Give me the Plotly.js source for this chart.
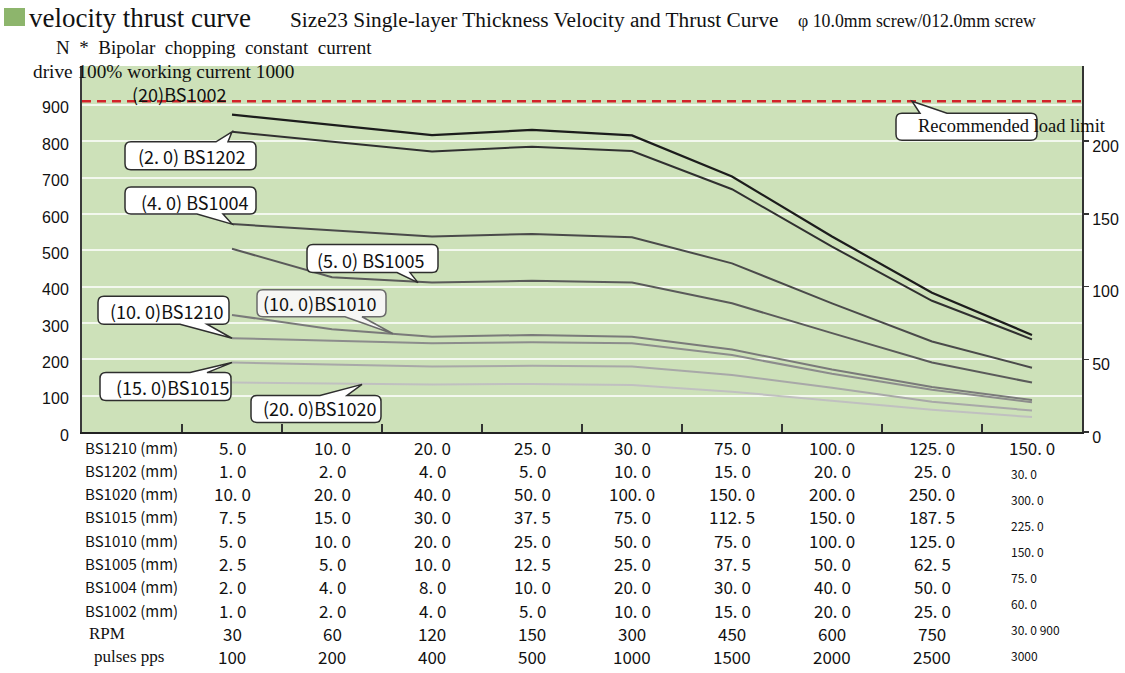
<!DOCTYPE html>
<html>
<head>
<meta charset="utf-8">
<script src="https://cdn.plot.ly/plotly-3.0.1.min.js"></script>
<style>
  html, body { margin: 0; padding: 0; background: #ffffff; }
  #chart { width: 1125px; height: 673px; }
</style>
</head>
<body>
<div id="chart"></div>
<script>
// Thrust (N) at each of the nine speed steps, one series per screw lead
const thrustBS1002 = [873, 845, 817, 831, 816, 703, 538, 383, 267];
const thrustBS1202 = [826, 799, 772, 785, 773, 668, 510, 361, 255];
const thrustBS1004 = [572, 556, 538, 545, 536, 464, 354, 249, 177];
const thrustBS1005 = [504, 426, 411, 416, 411, 354, 272, 191, 136];
const thrustBS1010 = [322, 283, 262, 267, 262, 227, 172, 124, 88];
const thrustBS1210 = [258, 251, 244, 247, 244, 212, 160, 116, 82];
const thrustBS1015 = [191, 186, 180, 182, 180, 157, 122, 83, 59];
const thrustBS1020 = [136, 133, 131, 132, 129, 111, 86, 61, 41];
const LOAD_LIMIT = 910;

// Linear speed (mm/s) per lead, RPM and pulse rate for the same nine steps
const rowLabels = ['BS1210 (mm)', 'BS1202 (mm)', 'BS1020 (mm)', 'BS1015 (mm)', 'BS1010 (mm)',
                   'BS1005 (mm)', 'BS1004 (mm)', 'BS1002 (mm)', 'RPM', 'pulses pps'];
const speedBS1210 = ['5. 0', '10. 0', '20. 0', '25. 0', '30. 0', '75. 0', '100. 0', '125. 0', '150. 0'];
const speedBS1202 = ['1. 0', '2. 0', '4. 0', '5. 0', '10. 0', '15. 0', '20. 0', '25. 0', '30. 0'];
const speedBS1020 = ['10. 0', '20. 0', '40. 0', '50. 0', '100. 0', '150. 0', '200. 0', '250. 0', '300. 0'];
const speedBS1015 = ['7. 5', '15. 0', '30. 0', '37. 5', '75. 0', '112. 5', '150. 0', '187. 5', '225. 0'];
const speedBS1010 = ['5. 0', '10. 0', '20. 0', '25. 0', '50. 0', '75. 0', '100. 0', '125. 0', '150. 0'];
const speedBS1005 = ['2. 5', '5. 0', '10. 0', '12. 5', '25. 0', '37. 5', '50. 0', '62. 5', '75. 0'];
const speedBS1004 = ['2. 0', '4. 0', '8. 0', '10. 0', '20. 0', '30. 0', '40. 0', '50. 0', '60. 0'];
const speedBS1002 = ['1. 0', '2. 0', '4. 0', '5. 0', '10. 0', '15. 0', '20. 0', '25. 0', '30. 0'];
const rpmValues   = ['30', '60', '120', '150', '300', '450', '600', '750', '900'];
const ppsValues   = ['100', '200', '400', '500', '1000', '1500', '2000', '2500', '3000'];

const leftTicks  = [0, 100, 200, 300, 400, 500, 600, 700, 800, 900];
const rightTicks = [0, 50, 100, 150, 200];

// ---- geometry helpers (plot box in page pixels) ----
const PLOT = { l: 82, t: 66, w: 1000, h: 366 };
const W = 1125, H = 673;
const px = x => (x - PLOT.l) / PLOT.w;
const py = y => (PLOT.t + PLOT.h - y) / PLOT.h;
const Y_MAX = 1007;

// speed steps sit in the middle of each grid cell; the first cell holds the row labels
const stepPos = thrustBS1002.map((_, i) => i + 1.5);

const SANS = 'Noto Sans CJK SC, Noto Sans, sans-serif';
const SERIF = 'Liberation Serif, Times New Roman, serif';

const seriesList = [
  { name: 'BS1002', y: thrustBS1002, color: '#1c1c1c', width: 2.2 },
  { name: 'BS1202', y: thrustBS1202, color: '#303030', width: 2 },
  { name: 'BS1004', y: thrustBS1004, color: '#4a4a4a', width: 2 },
  { name: 'BS1005', y: thrustBS1005, color: '#5a5a5a', width: 2 },
  { name: 'BS1010', y: thrustBS1010, color: '#7a7a7a', width: 2 },
  { name: 'BS1210', y: thrustBS1210, color: '#8c8c8c', width: 2 },
  { name: 'BS1015', y: thrustBS1015, color: '#a8a8a8', width: 2 },
  { name: 'BS1020', y: thrustBS1020, color: '#c0c0c0', width: 2 }
];

const traces = seriesList.map(s => ({
  type: 'scatter', mode: 'lines', name: s.name,
  x: stepPos, y: s.y,
  line: { color: s.color, width: s.width },
  hoverinfo: 'skip', showlegend: false
}));
// keeps the secondary (right) scale drawn
traces.push({ type: 'scatter', x: [], y: [], yaxis: 'y2', showlegend: false, hoverinfo: 'skip' });

// ---- speech-bubble callouts ----
// box and tail are given in pixels relative to the anchor point (screen y grows downward)
function bubblePath(b) {
  const r = 6, L = b.L, T = b.T, R = b.L + b.W, B = b.T + b.H;
  const tx = b.tx || 0, ty = b.ty || 0;
  const P = (x, y) => `${x},${-y}`;
  let d = `M${P(L + r, T)}`;
  if (b.side === 'top') d += ` L${P(b.a, T)} L${P(tx, ty)} L${P(b.c, T)}`;
  d += ` L${P(R - r, T)} Q${P(R, T)} ${P(R, T + r)} L${P(R, B - r)} Q${P(R, B)} ${P(R - r, B)}`;
  if (b.side === 'bottom') d += ` L${P(b.c, B)} L${P(tx, ty)} L${P(b.a, B)}`;
  d += ` L${P(L + r, B)} Q${P(L, B)} ${P(L, B - r)} L${P(L, T + r)} Q${P(L, T)} ${P(L + r, T)} Z`;
  return d;
}

const callouts = [
  { text: '(2. 0) BS1202', x: stepPos[0], y: thrustBS1202[0], L: -107, T: 10, W: 131, H: 28, side: 'top', a: -16, c: -4, tdx: -41, tdy: 24 },
  { text: '(4. 0) BS1004', x: stepPos[0], y: thrustBS1004[0], L: -107, T: -37, W: 131, H: 27, side: 'bottom', a: -35, c: -9, tdx: -38, tdy: -22 },
  { text: '(5. 0) BS1005', x: stepPos[2], y: thrustBS1005[2], L: -125, T: -38, W: 131, H: 28, side: 'bottom', a: -35, c: -22, tx: -14, ty: 0, tdx: -62, tdy: -23 },
  { text: '(10. 0)BS1210', x: stepPos[0], y: thrustBS1210[0], L: -134, T: -42, W: 131, H: 28, side: 'bottom', a: -52, c: -25, tdx: -66, tdy: -27 },
  { text: '(10. 0)BS1010', x: stepPos[2], y: thrustBS1010[2], L: -175, T: -47, W: 129, H: 27, side: 'bottom', a: -87, c: -70, tx: -39, ty: -3, tdx: -113, tdy: -34, soft: true },
  { text: '(15. 0)BS1015', x: stepPos[0], y: thrustBS1015[0], L: -132, T: 10, W: 131, H: 28, side: 'top', a: -42, c: -25, tdx: -60, tdy: 24 },
  { text: '(20. 0)BS1020', x: stepPos[2], y: thrustBS1020[2], L: -181, T: 11, W: 130, H: 27, side: 'top', a: -112, c: -85, tx: -70, ty: 0, tdx: -113, tdy: 24 },
  { text: 'Recommended load limit', x: stepPos[7], y: LOAD_LIMIT, L: -36, T: 12, W: 141, H: 27, side: 'top', a: -12, c: 15, tx: -20, ty: 0, tdx: -16, tdy: 25, serif: true, left: true }
];

const shapes = [
  // caption marker
  { type: 'rect', xref: 'paper', yref: 'paper', x0: px(4), x1: px(25), y0: py(26), y1: py(8),
    fillcolor: '#8db56c', line: { width: 0 } },
  // recommended load limit
  { type: 'line', xref: 'paper', x0: 0, x1: 1, yref: 'y', y0: LOAD_LIMIT, y1: LOAD_LIMIT,
    line: { color: '#d2232a', width: 2.5, dash: '9px,6px' }, layer: 'between' }
];

callouts.forEach(b => {
  shapes.push({
    type: 'path', layer: 'above',
    xref: 'x', yref: 'y', xsizemode: 'pixel', ysizemode: 'pixel',
    xanchor: b.x, yanchor: b.y,
    path: bubblePath(b),
    fillcolor: b.soft ? '#f6f6f4' : '#ffffff',
    line: { color: b.soft ? '#6a6a6a' : '#2e2e2e', width: 1.5 }
  });
});

const annotations = [];

callouts.forEach(b => {
  annotations.push({
    xref: 'x', yref: 'y', x: b.x, y: b.y, xshift: b.tdx, yshift: -b.tdy,
    text: b.text, showarrow: false,
    xanchor: b.left ? 'left' : 'center', yanchor: 'middle',
    font: { family: b.serif ? SERIF : SANS, size: b.serif ? 18.5 : 18, color: '#111111' }
  });
});

// label of the top curve, sitting on the limit line
annotations.push({
  xref: 'x', yref: 'y', x: stepPos[0], y: LOAD_LIMIT, xshift: -53, yshift: 7,
  text: '(20)BS1002', showarrow: false, xanchor: 'center', yanchor: 'middle',
  font: { family: SANS, size: 18, color: '#111111' }
});

// header texts
function pageText(text, x, y, size, family, anchor) {
  annotations.push({
    xref: 'paper', yref: 'paper', x: px(x), y: py(y), text: text, showarrow: false,
    xanchor: anchor || 'left', yanchor: 'middle',
    font: { family: family, size: size, color: '#111111' }
  });
}
pageText('velocity thrust curve', 27, 18, 27, SERIF);
pageText('Size23 Single-layer Thickness Velocity and Thrust Curve', 288, 20, 21.3, SERIF);
pageText('\u03c6 10.0mm screw/012.0mm screw', 796, 21, 17.8, SERIF);
pageText('N &nbsp;* &nbsp;Bipolar &nbsp;chopping &nbsp;constant &nbsp;current', 54, 47, 19, SERIF);
pageText('drive 100% working current 1000', 31, 71, 19.3, SERIF);

// speed table below the plot
const tableRows = [speedBS1210, speedBS1202, speedBS1020, speedBS1015, speedBS1010,
                   speedBS1005, speedBS1004, speedBS1002, rpmValues, ppsValues];
const rowY = r => 447 + r * 23.3;
const plotBottom = PLOT.t + PLOT.h;

tableRows.forEach((vals, r) => {
  const serifRow = r >= 8;
  annotations.push({
    xref: 'paper', yref: 'paper', x: 0, y: 0,
    xshift: r === 8 ? 5 : (r === 9 ? 10 : 1), yshift: -(rowY(r) - plotBottom),
    text: rowLabels[r], showarrow: false, xanchor: 'left', yanchor: 'middle',
    font: { family: serifRow ? SERIF : SANS, size: serifRow ? 17 : 15, color: '#111111' }
  });
  vals.forEach((v, i) => {
    if (i === vals.length - 1 && r > 0) return;
    annotations.push({
      xref: 'x', yref: 'paper', x: stepPos[i], y: 0, yshift: -(rowY(r) - plotBottom),
      text: v, showarrow: false, xanchor: 'center', yanchor: 'middle',
      font: { family: SANS, size: 17, color: '#111111' }
    });
  });
});

// last column of rows 2..10 is printed small and slightly staggered
const last = stepPos.length - 1;
const lastColumn = [speedBS1202[last], speedBS1020[last], speedBS1015[last], speedBS1010[last],
                    speedBS1005[last], speedBS1004[last], speedBS1002[last] + ' ' + rpmValues[last],
                    ppsValues[last]];
lastColumn.forEach((v, k) => {
  annotations.push({
    xref: 'x', yref: 'paper', x: stepPos[last], y: 0, xshift: -23,
    yshift: -(473 + k * 26.1 - plotBottom),
    text: v, showarrow: false, xanchor: 'left', yanchor: 'middle',
    font: { family: SANS, size: 12, color: '#111111' }
  });
});

const layout = {
  width: W, height: H,
  margin: { l: PLOT.l, r: W - PLOT.l - PLOT.w, t: PLOT.t, b: H - PLOT.t - PLOT.h, pad: 0 },
  paper_bgcolor: '#ffffff',
  plot_bgcolor: '#cde1b9',
  showlegend: false,
  xaxis: {
    range: [0, 10], tickvals: [1, 2, 3, 4, 5, 6, 7, 8, 9], showticklabels: false,
    ticks: 'inside', ticklen: 8, tickwidth: 1.5, tickcolor: '#333333',
    showgrid: false, zeroline: false,
    showline: true, linecolor: '#222222', linewidth: 2
  },
  yaxis: {
    range: [0, Y_MAX], tickvals: leftTicks, ticks: '', ticklabelstandoff: 8, ticklabelshift: 3,
    tickfont: { family: 'Liberation Sans, Arial, sans-serif', size: 16, color: '#111111' },
    showgrid: true, gridcolor: '#f3f8ee', gridwidth: 2, zeroline: false,
    showline: true, linecolor: '#3a3a3a', linewidth: 2
  },
  yaxis2: {
    overlaying: 'y', side: 'right', range: [0, Y_MAX / 4], tickvals: rightTicks,
    ticks: 'outside', ticklen: 5, tickwidth: 1.5, tickcolor: '#333333', ticklabelshift: 5,
    tickfont: { family: 'Liberation Sans, Arial, sans-serif', size: 16, color: '#111111' },
    showgrid: false, zeroline: false,
    showline: true, linecolor: '#333333', linewidth: 2
  },
  shapes: shapes,
  annotations: annotations
};

Plotly.newPlot('chart', traces, layout, { staticPlot: true, displayModeBar: false });
</script>
</body>
</html>
